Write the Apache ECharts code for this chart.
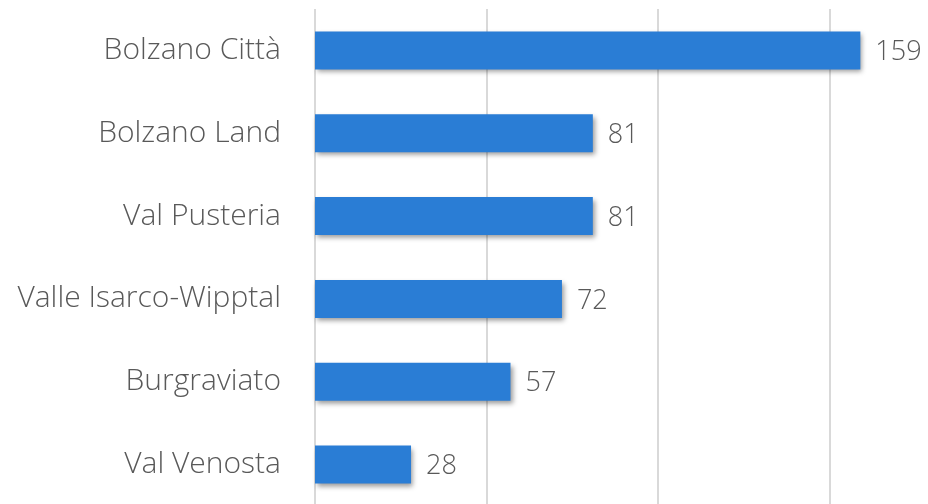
<!DOCTYPE html>
<html>
<head>
<meta charset="utf-8">
<script src="https://cdn.jsdelivr.net/npm/echarts@6/dist/echarts.min.js"></script>
<style>
html,body{margin:0;padding:0;background:#fff;overflow:hidden;width:928px;height:504px;}
#chart{width:1010px;height:510px;}
</style>
</head>
<body>
<div id="chart"></div>
<script>
var categories = ["Bolzano Città", "Bolzano Land", "Val Pusteria", "Valle Isarco-Wipptal", "Burgraviato", "Val Venosta"];
var values = [159, 81, 81, 72, 57, 28];

var chart = echarts.init(document.getElementById('chart'), null, {renderer: 'canvas'});
chart.setOption({
  animation: false,
  grid: {left: 315, width: 686, top: 9, height: 497, containLabel: false},
  xAxis: {
    type: 'value', min: 0, max: 200, interval: 50,
    axisLabel: {show: false}, axisLine: {show: false}, axisTick: {show: false},
    splitLine: {show: true, lineStyle: {color: '#d9d9d9', width: 2}}
  },
  yAxis: {
    type: 'category', data: categories, inverse: true,
    axisLine: {show: false}, axisTick: {show: false},
    axisLabel: {margin: 34, color: '#595959', fontSize: 30, fontFamily: 'Open Sans', fontWeight: 300}
  },
  series: [{
    type: 'bar', data: values, barWidth: 38,
    itemStyle: {color: '#2a7dd5', shadowColor: 'rgba(0,0,0,0.4)', shadowBlur: 5, shadowOffsetX: 2, shadowOffsetY: 3},
    label: {show: true, position: 'right', distance: 15, offset: [0, 2], color: '#595959', fontSize: 27, fontFamily: 'Open Sans', fontWeight: 300}
  }]
});
</script>
</body>
</html>
